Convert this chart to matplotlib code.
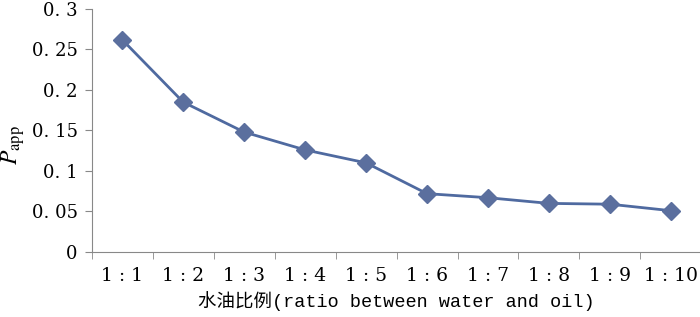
import matplotlib
matplotlib.use("Agg")
import matplotlib.pyplot as plt
import numpy as np

# chart data
ratios = ["1 : 1", "1 : 2", "1 : 3", "1 : 4", "1 : 5",
          "1 : 6", "1 : 7", "1 : 8", "1 : 9", "1 : 10"]
p_app = [0.262, 0.185, 0.148, 0.126, 0.110, 0.072, 0.067, 0.060, 0.059, 0.051]
y_ticks = [0, 0.05, 0.1, 0.15, 0.2, 0.25, 0.3]
y_tick_labels = ["0", "0. 05", "0. 1", "0. 15", "0. 2", "0. 25", "0. 3"]

plt.rcParams['mathtext.fontset'] = 'stix'

fig = plt.figure(figsize=(7, 3.17), dpi=100)
ax = fig.add_axes([0.131, 0.205, 0.871, 0.767])

x = np.arange(len(ratios))
ax.plot(x, p_app, color='#4f6aa0', linewidth=2, marker='D', markersize=9,
        markerfacecolor='#5b6f9e', markeredgecolor='#5b6f9e', clip_on=False)

ax.set_xlim(-0.5, len(ratios) - 0.5)
ax.set_ylim(0, 0.3)

# category labels in the middle, tick marks on the boundaries
ax.set_xticks(x)
ax.set_xticklabels(ratios, fontsize=13.5, family='DejaVu Serif')
ax.tick_params(axis='x', which='major', length=0, pad=11)
ax.set_xticks(np.arange(len(ratios) + 1) - 0.5, minor=True)
ax.tick_params(axis='x', which='minor', length=5, direction='out', color='#888888')

ax.set_yticks(y_ticks)
ax.set_yticklabels(y_tick_labels, fontsize=13, family='DejaVu Serif')
ax.tick_params(axis='y', length=5, direction='out', color='#888888', pad=5)

for side in ['top', 'right']:
    ax.spines[side].set_visible(False)
for side in ['left', 'bottom']:
    ax.spines[side].set_color('#888888')

ax.set_xlabel("水油比例(ratio between water and oil)", fontsize=13.3,
              family=['Liberation Mono', 'Noto Sans CJK SC'], labelpad=4)
ax.set_ylabel(r"$P_{\mathrm{app}}$", fontsize=17)
ax.yaxis.set_label_coords(-0.106, 0.44)

fig.savefig("out.png", dpi=100)
